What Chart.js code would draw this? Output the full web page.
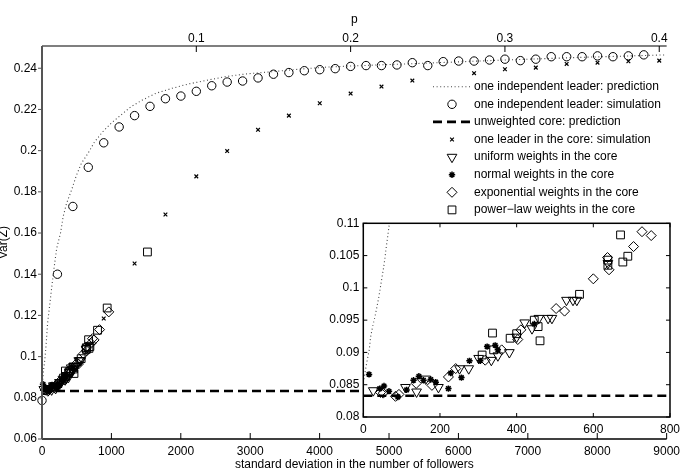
<!DOCTYPE html>
<html><head><meta charset="utf-8">
<script src="https://cdn.jsdelivr.net/npm/chart.js@4/dist/chart.umd.min.js"></script>
<style>
html,body{margin:0;padding:0;background:#fff;}
#wrap{position:relative;width:685px;height:472px;overflow:hidden;background:#fff;}
#main{position:absolute;left:0;top:0;}
#inset{position:absolute;left:300px;top:210px;}
</style></head><body>
<div id="wrap"><canvas id="main" width="685" height="472"></canvas><canvas id="inset" width="385" height="240"></canvas></div>
<script>
// ---------- tick labels ----------
const sigmaTicks = [0,1000,2000,3000,4000,5000,6000,7000,8000,9000];
const pTicks = [0.1,0.2,0.3,0.4];
const varTicks = [0.06,0.08,0.1,0.12,0.14,0.16,0.18,0.2,0.22,0.24];
const insetSigmaTicks = [0,200,400,600,800];
const insetVarTicks = [0.08,0.085,0.09,0.095,0.1,0.105,0.11];

// ---------- series ----------
// one independent leader: prediction (x = std dev of followers)
const predSigma = [0,2.6,8.6,15.5,19.1,24.3,30.2,35.4,40.5,44.9,49,53.4,56.8,60.1,63.5,66.8,80,162,211,267,305,354,425,496,567,663,758,876,996,1138,1281,1448,1639,1877,2115,2353,2639,2926,3307,3687,4069,4447,5559,6671,7783,9000];
const predVar = [0.0853,0.0862,0.0883,0.0904,0.0924,0.094,0.0955,0.097,0.0986,0.1002,0.1017,0.1033,0.1048,0.1064,0.1079,0.1094,0.116,0.14,0.1525,0.16,0.168,0.1744,0.1808,0.188,0.1938,0.1987,0.2043,0.2092,0.2133,0.2173,0.2213,0.2246,0.2278,0.2303,0.2324,0.234,0.2359,0.2372,0.2383,0.2395,0.2405,0.2411,0.2425,0.244,0.2453,0.2465];

// one independent leader: simulation (x = p)
const simP = [0,0.01,0.02,0.03,0.04,0.05,0.06,0.07,0.08,0.09,0.1,0.11,0.12,0.13,0.14,0.15,0.16,0.17,0.18,0.19,0.2,0.21,0.22,0.23,0.24,0.25,0.26,0.27,0.28,0.29,0.3,0.31,0.32,0.33,0.34,0.35,0.36,0.37,0.38,0.39];
const simVar = [0.0787,0.14,0.1729,0.1919,0.2038,0.2115,0.217,0.2215,0.2252,0.2265,0.2288,0.2315,0.2333,0.2338,0.2353,0.2371,0.2379,0.2388,0.2393,0.2398,0.2409,0.2413,0.2413,0.2416,0.2427,0.2413,0.2432,0.2435,0.2435,0.244,0.2444,0.2437,0.2444,0.2456,0.2456,0.2456,0.246,0.2456,0.246,0.2465];

// unweighted core: prediction
const coreSigma = [0,9000];
const coreVar = [0.0833,0.0833];

// one leader in the core: simulation (x = p)
const leaderP = [0.04,0.06,0.08,0.1,0.12,0.14,0.16,0.18,0.2,0.22,0.24,0.28,0.3,0.32,0.34,0.36,0.38,0.4];
const leaderVar = [0.1185,0.1452,0.169,0.1875,0.1998,0.2101,0.217,0.223,0.2277,0.2311,0.234,0.2376,0.2395,0.2403,0.2421,0.2427,0.2434,0.2437];

// uniform weights in the core
const uniformSigma = [26,110,139,163,196,251,275,301,334,351,381,400,421,440,458,482,492,530,547,557,638];
const uniformVar = [0.0841,0.0846,0.0839,0.0859,0.0846,0.0875,0.0875,0.0891,0.0888,0.0895,0.09,0.0924,0.0946,0.0937,0.0953,0.0953,0.0953,0.0981,0.0981,0.0981,0.1038];

// normal weights in the core
const normalSigma = [15,43,54,67,90,113,131,145,157,176,189,222,228,256,277,305,323,344,351,446];
const normalVar = [0.0866,0.0844,0.0848,0.084,0.0831,0.0842,0.0857,0.0863,0.0857,0.0858,0.0854,0.0844,0.0868,0.0861,0.0887,0.0887,0.0909,0.0911,0.0904,0.0944];

// exponential weights in the core
const expSigma = [45,52,84,93,138,179,222,241,318,361,403,411,503,525,600,637,641,705,727,751,829,962];
const expVar = [0.0838,0.0837,0.0832,0.0835,0.0852,0.0849,0.0862,0.0875,0.0888,0.0904,0.092,0.0935,0.0968,0.0964,0.1014,0.1047,0.1028,0.1064,0.1087,0.1081,0.1131,0.1217];

// power-law weights in the core
const powerSigma = [310,337,340,383,400,446,456,461,564,638,638,671,677,690,800,939,1519];
const powerVar = [0.0896,0.093,0.0904,0.0922,0.0929,0.095,0.094,0.0918,0.099,0.1043,0.1035,0.1082,0.104,0.1049,0.1128,0.1236,0.1508];

// ---------- helpers ----------
const zip = (xs, ys) => xs.map((x, i) => ({x: x, y: ys[i]}));
const fmt = v => String(parseFloat(Number(v).toFixed(4)));
const FONTFAM = "'Liberation Sans', Arial, Helvetica, sans-serif";
Chart.defaults.font.family = FONTFAM;
Chart.defaults.font.size = 12;
Chart.defaults.color = '#000';

function makeDatasets(inset) {
  const ds = [];
  ds.push({label:'one independent leader: prediction', data: zip(predSigma, predVar), showLine:true,
    borderColor:'#444', borderWidth:1.1, borderDash:[1,2.6], pointRadius:0, fill:false, xAxisID:'x', legendKind:'line'});
  if (!inset) ds.push({label:'one independent leader: simulation', data: zip(simP, simVar), xAxisID:'x2',
    pointStyle:'circle', pointRadius:4.2, borderWidth:1, borderColor:'#000', backgroundColor:'rgba(0,0,0,0)', clip:false});
  else ds.push({label:'one independent leader: simulation', data: [], xAxisID:'x', pointStyle:'circle', pointRadius:4.2});
  ds.push({label:'unweighted core: prediction', data: zip(coreSigma, coreVar), showLine:true,
    borderColor:'#000', borderWidth:2.6, borderDash:[9,5], pointRadius:0, fill:false, xAxisID:'x', legendKind:'line'});
  if (!inset) ds.push({label:'one leader in the core: simulation', data: zip(leaderP, leaderVar), xAxisID:'x2',
    pointStyle:'crossRot', pointRadius:2.6, borderWidth:1.2, borderColor:'#000', clip:false});
  else ds.push({label:'one leader in the core: simulation', data: [], xAxisID:'x', pointStyle:'crossRot', pointRadius:2.6});
  const common = {xAxisID:'x', borderColor:'#000', backgroundColor:'rgba(0,0,0,0)'};
  ds.push(Object.assign({label:'uniform weights in the core', data: zip(uniformSigma, uniformVar),
    pointStyle:'triangle', pointRotation:180, pointRadius:5.6, borderWidth:1}, common));
  ds.push(Object.assign({label:'normal weights in the core', data: zip(normalSigma, normalVar),
    pointStyle:'star', pointRadius:3.2, borderWidth:1.5}, common));
  ds.push(Object.assign({label:'exponential weights in the core', data: zip(expSigma, expVar),
    pointStyle:'rectRot', pointRadius:5, borderWidth:1}, common));
  ds.push(Object.assign({label:'power\u2212law weights in the core', data: zip(powerSigma, powerVar),
    pointStyle:'rect', pointRadius:5.5, borderWidth:1}, common));
  if (!inset) ds.forEach(d => { if (d.clip === undefined && !d.showLine) d.clip = false; });
  return ds;
}

function line(ctx, x1, y1, x2, y2) { ctx.beginPath(); ctx.moveTo(x1, y1); ctx.lineTo(x2, y2); ctx.stroke(); }

const mainFrame = {
  id: 'mainFrame',
  afterDatasetsDraw(chart) {
    const ctx = chart.ctx, a = chart.chartArea, sx = chart.scales.x, sp = chart.scales.x2, sy = chart.scales.y;
    ctx.save();
    ctx.lineCap = 'butt';
    ctx.strokeStyle = '#000'; ctx.lineWidth = 1.4;
    line(ctx, a.left, a.bottom, a.right, a.bottom);
    ctx.lineWidth = 1.1;
    line(ctx, a.left, a.top, a.right, a.top);
    ctx.lineWidth = 1;
    sigmaTicks.forEach(v => { const px = sx.getPixelForValue(v); line(ctx, px, a.bottom, px, a.bottom - 6); });
    pTicks.forEach(v => { const px = sp.getPixelForValue(v); line(ctx, px, a.top, px, a.top + 6); });
    ctx.strokeStyle = '#555'; ctx.lineWidth = 1;
    varTicks.forEach(v => { const py = sy.getPixelForValue(v); line(ctx, a.left - 4, py, a.left, py); });
    ctx.lineWidth = 2;
    line(ctx, a.left, a.top, a.left, a.bottom);
    ctx.restore();
  },
  afterDraw(chart) {
    // legend
    const ctx = chart.ctx;
    const x0 = 433, x1 = 471, xm = 452, xt = 474, y0 = 86.7, dy = 17.6;
    ctx.save();
    ctx.font = '12px ' + FONTFAM;
    ctx.textBaseline = 'middle'; ctx.textAlign = 'left'; ctx.fillStyle = '#000';
    chart.data.datasets.forEach((d, i) => {
      const y = y0 + i * dy;
      ctx.strokeStyle = d.borderColor || '#000';
      if (d.legendKind === 'line') {
        ctx.lineWidth = d.borderWidth; ctx.setLineDash(d.borderDash || []);
        line(ctx, x0, y, x1, y); ctx.setLineDash([]);
      } else {
        ctx.lineWidth = d.borderWidth; ctx.fillStyle = 'rgba(0,0,0,0)';
        Chart.helpers.drawPoint(ctx, {pointStyle: d.pointStyle, radius: d.pointRadius, rotation: d.pointRotation || 0, borderWidth: d.borderWidth}, xm, y);
        ctx.fillStyle = '#000';
      }
      ctx.fillText(d.label, xt, y);
    });
    ctx.restore();
  }
};

new Chart(document.getElementById('main'), {
  type: 'scatter',
  data: {datasets: makeDatasets(false)},
  options: {
    responsive:false, animation:false, devicePixelRatio:1, events:[],
    layout:{padding:{left:0, right:13, top:0, bottom:0}},
    plugins:{legend:{display:false}, tooltip:{enabled:false}},
    scales:{
      x:{type:'linear', position:'bottom', min:0, max:9000,
        afterBuildTicks: s => { s.ticks = sigmaTicks.map(v => ({value:v})); },
        afterFit: s => { s.height = 33; },
        grid:{display:false, drawTicks:false}, border:{display:false},
        ticks:{padding:5, autoSkip:false, maxRotation:0, callback: v => String(v)},
        title:{display:true, text:'standard deviation in the number of followers', padding:{top:0, bottom:0}}},
      x2:{type:'linear', position:'top', min:0, max:0.4048,
        afterBuildTicks: s => { s.ticks = pTicks.map(v => ({value:v})); },
        afterFit: s => { s.height = 46; },
        grid:{display:false, drawTicks:false}, border:{display:false},
        ticks:{padding:0, autoSkip:false, maxRotation:0, callback: fmt},
        title:{display:true, text:'p', padding:{top:12, bottom:0}}},
      y:{type:'linear', position:'left', min:0.06, max:0.2508,
        afterBuildTicks: s => { s.ticks = varTicks.map(v => ({value:v})); },
        afterFit: s => { s.width = 42; },
        grid:{display:false, drawTicks:false}, border:{display:false},
        ticks:{padding:5, autoSkip:false, callback: fmt},
        title:{display:true, text:'Var(Z)', padding:{top:-4, bottom:0}}}
    }
  },
  plugins:[mainFrame]
});

const insetFrame = {
  id: 'insetFrame',
  beforeDraw(chart) {
    const ctx = chart.ctx, a = chart.chartArea;
    ctx.save(); ctx.fillStyle = '#fff'; ctx.fillRect(a.left, a.top, a.right - a.left, a.bottom - a.top); ctx.restore();
  },
  afterDatasetsDraw(chart) {
    const ctx = chart.ctx, a = chart.chartArea, sx = chart.scales.x, sy = chart.scales.y;
    ctx.save();
    ctx.strokeStyle = '#000'; ctx.lineWidth = 1;
    insetSigmaTicks.forEach(v => { const px = sx.getPixelForValue(v); line(ctx, px, a.bottom, px, a.bottom - 4); line(ctx, px, a.top, px, a.top + 4); });
    insetVarTicks.forEach(v => { const py = sy.getPixelForValue(v); line(ctx, a.left, py, a.left + 4, py); line(ctx, a.right, py, a.right - 4, py); });
    ctx.lineWidth = 1.5;
    ctx.strokeRect(a.left, a.top, a.right - a.left, a.bottom - a.top);
    ctx.restore();
  }
};

new Chart(document.getElementById('inset'), {
  type: 'scatter',
  data: {datasets: makeDatasets(true)},
  options: {
    responsive:false, animation:false, devicePixelRatio:1, events:[],
    layout:{padding:{left:0, right:11.7, top:13.3, bottom:0}},
    plugins:{legend:{display:false}, tooltip:{enabled:false}},
    scales:{
      x:{type:'linear', position:'bottom', min:0, max:800,
        afterBuildTicks: s => { s.ticks = insetSigmaTicks.map(v => ({value:v})); },
        afterFit: s => { s.height = 33; },
        grid:{display:false, drawTicks:false}, border:{display:false},
        ticks:{padding:5, autoSkip:false, maxRotation:0, callback: v => String(v)}},
      y:{type:'linear', position:'left', min:0.08, max:0.11,
        afterBuildTicks: s => { s.ticks = insetVarTicks.map(v => ({value:v})); },
        afterFit: s => { s.width = 63.3; },
        grid:{display:false, drawTicks:false}, border:{display:false},
        ticks:{padding:4, autoSkip:false, callback: fmt}}
    }
  },
  plugins:[insetFrame]
});
</script>
</body></html>
